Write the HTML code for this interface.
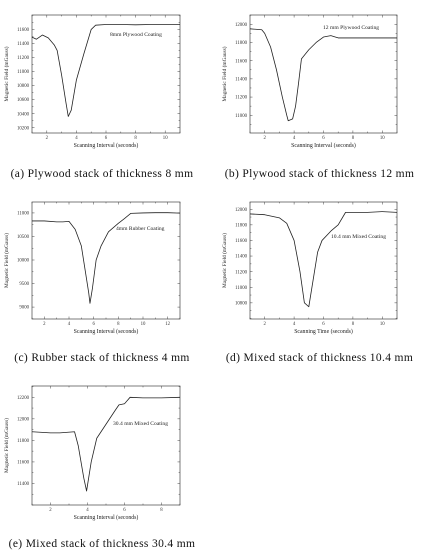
<!DOCTYPE html>
<html><head><meta charset="utf-8"><style>
html,body{margin:0;padding:0;background:#fff;}
svg{display:block;font-family:"Liberation Serif",serif;}
</style></head><body>
<svg id="fig" width="425" height="555" viewBox="0 0 425 555"></svg>
<script>
// Chart (a)
const aX=[1,1.3,1.7,2.1,2.5,2.7,3.0,3.3,3.45,3.65,4.0,4.5,5.0,5.3,6,7,8,9,10,11];
const aY=[11490,11460,11520,11480,11380,11300,10950,10550,10360,10450,10880,11250,11600,11660,11670,11670,11665,11670,11670,11670];
const aXTicks=[2,4,6,8,10];
const aYTicks=[10200,10400,10600,10800,11000,11200,11400,11600];
// Chart (b)
const bX=[1,1.8,2.0,2.4,2.8,3.2,3.5,3.6,3.9,4.1,4.3,4.5,5,5.5,6,6.5,6.8,7,8,9,10,11];
const bY=[11950,11940,11900,11750,11500,11200,11000,10940,10960,11100,11350,11620,11720,11800,11860,11875,11860,11850,11850,11850,11850,11850];
const bXTicks=[2,4,6,8,10];
const bYTicks=[11000,11200,11400,11600,11800,12000];
// Chart (c)
const cX=[1,2,3,3.5,4,4.5,5,5.3,5.6,5.7,5.9,6.2,6.6,7.2,8,8.5,9,10,11,12,13];
const cY=[10830,10830,10810,10810,10820,10650,10300,9800,9300,9080,9400,10000,10300,10600,10780,10880,10990,11000,11005,11005,10995];
const cXTicks=[2,4,6,8,10,12];
const cYTicks=[9000,9500,10000,10500,11000];
// Chart (d)
const dX=[1,2,3,3.5,4,4.4,4.7,5.0,5.3,5.6,5.9,6.5,7,7.5,8,9,10,11];
const dY=[11940,11930,11890,11820,11600,11200,10800,10750,11100,11450,11600,11720,11800,11960,11960,11960,11970,11960];
const dXTicks=[2,4,6,8,10];
const dYTicks=[10800,11000,11200,11400,11600,11800,12000];
// Chart (e)
const eX=[1,2,2.5,3.3,3.5,3.8,3.95,4.2,4.5,5,5.5,5.7,6,6.3,7,8,9];
const eY=[11880,11870,11870,11880,11750,11450,11330,11600,11820,11950,12080,12130,12140,12200,12195,12195,12200];
const eXTicks=[2,4,6,8];
const eYTicks=[11400,11600,11800,12000,12200];

const NS="http://www.w3.org/2000/svg";
const svg=document.getElementById('fig');
function mk(tag,attrs,parent,txt){const e=document.createElementNS(NS,tag);for(const k in attrs)e.setAttribute(k,attrs[k]);if(txt!==undefined)e.textContent=txt;(parent||svg).appendChild(e);return e;}

function chart(id,box,xd,yd,xs,ys,xt,yt,xTitle,note,caption,capY){
  const g=mk('g',{});
  
  
  const [L,T,R,B]=box;
  const sx=v=>L+(v-xd[0])/(xd[1]-xd[0])*(R-L);
  const sy=v=>B-(v-yd[0])/(yd[1]-yd[0])*(B-T);
  const frame=mk('rect',{x:L,y:T,width:R-L,height:B-T,fill:'none',stroke:'#444','stroke-width':0.7},g);
  
  
  const xStep=xt[1]-xt[0];
  for(let v=Math.ceil(xd[0]/(xStep/2))*(xStep/2);v<=xd[1];v+=xStep/2){
    const major=xt.includes(+v.toFixed(6));const len=major?2.5:1.4;const x=sx(v);
    mk('line',{x1:x,y1:B,x2:x,y2:B-len,stroke:'#444','stroke-width':0.5},g);
    mk('line',{x1:x,y1:T,x2:x,y2:T+len,stroke:'#444','stroke-width':0.5},g);
  }
  xt.forEach(v=>{const t=mk('text',{x:sx(v),y:B+6,'font-size':4.8,'text-anchor':'middle',fill:'#333'},g,String(v));
    });
  const yStep=yt[1]-yt[0];
  for(let v=Math.ceil(yd[0]/(yStep/2))*(yStep/2);v<=yd[1];v+=yStep/2){
    const major=yt.includes(v);const len=major?2.5:1.4;const y=sy(v);
    mk('line',{x1:L,y1:y,x2:L+len,y2:y,stroke:'#444','stroke-width':0.5},g);
    mk('line',{x1:R,y1:y,x2:R-len,y2:y,stroke:'#444','stroke-width':0.5},g);
  }
  yt.forEach(v=>{const t=mk('text',{x:L-3,y:sy(v)+1.6,'font-size':4.8,'text-anchor':'end',fill:'#333'},g,String(v));
    });
  const pts=xs.map((x,i)=>sx(x).toFixed(2)+','+sy(ys[i]).toFixed(2)).join(' ');
  const line=mk('polyline',{points:pts,fill:'none',stroke:'#222','stroke-width':0.8,'stroke-linejoin':'round'},g);
  
  
  const xtl=mk('text',{x:(L+R)/2,y:B+14,'font-size':5.8,'text-anchor':'middle',fill:'#222'},g,xTitle);
  
  const cy=(T+B)/2;
  const ytl=mk('text',{x:L-24,y:cy,'font-size':5.4,'text-anchor':'middle',fill:'#222',transform:'rotate(-90 '+(L-24)+' '+cy+')'},g,'Magnetic Field (mGauss)');
  
  const nt=mk('text',{x:note[1],y:note[2],'font-size':5.6,fill:'#222'},g,note[0]);
  
  const cp=mk('text',{x:(L+R)/2-4,y:capY,'font-size':11.5,'letter-spacing':0.35,'text-anchor':'middle',fill:'#111'},g,caption);
  
}
chart('a',[32,15,180,133],[1,11],[10125,11805],aX,aY,aXTicks,aYTicks,'Scanning Interval (seconds)',['8mm Plywood Coating',110,36],'(a) Plywood stack of thickness 8 mm',177);
chart('b',[250,15,397,133],[1,11],[10805,12102],bX,bY,bXTicks,bYTicks,'Scanning Interval (seconds)',['12 mm Plywood Coating',323,29],'(b) Plywood stack of thickness 12 mm',177);
chart('c',[32,202,180,319],[1,13],[8747,11232],cX,cY,cXTicks,cYTicks,'Scanning Interval (seconds)',['4mm Rubber Coating',116,230],'(c) Rubber stack of thickness 4 mm',361);
chart('d',[250,202,397,319],[1,11],[10593,12093],dX,dY,dXTicks,dYTicks,'Scanning Time (seconds)',['10.4 mm Mixed Coating',331,238],'(d) Mixed stack of thickness 10.4 mm',361);
chart('e',[32,386,180,505],[1,9],[11200,12305],eX,eY,eXTicks,eYTicks,'Scanning Interval (seconds)',['30.4 mm Mixed Coating',113,425],'(e) Mixed stack of thickness 30.4 mm',547);
</script>
</body></html>
